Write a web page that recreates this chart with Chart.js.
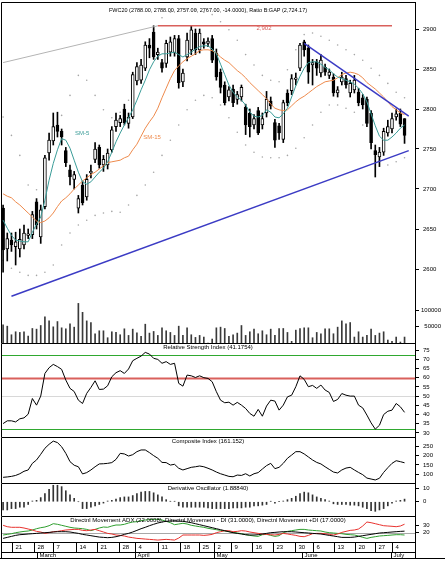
<!DOCTYPE html>
<html><head><meta charset="utf-8">
<script src="https://cdn.jsdelivr.net/npm/chart.js@4.4.0/dist/chart.umd.min.js"></script>
<style>
html,body{margin:0;padding:0;background:#fff;}
#wrap{position:relative;width:445px;height:563px;overflow:hidden;}
canvas{position:absolute;left:0;}
</style></head><body>
<div id="wrap">
<canvas id="cMain" style="top:0px" width="445" height="343"></canvas>
<canvas id="cRsi" style="top:343px" width="445" height="94"></canvas>
<canvas id="cComp" style="top:437px" width="445" height="46"></canvas>
<canvas id="cDer" style="top:483px" width="445" height="33"></canvas>
<canvas id="cDmi" style="top:516px" width="445" height="26"></canvas>
<canvas id="cAxis" style="top:542px" width="445" height="21"></canvas>
</div>
<script>
// ---------------- DATA ----------------
const open = [2676,2625,2636,2628,2625,2630,2642,2643,2684,2640,
2678,2745,2760,2780,2772,2748,2724,2712,2676,2705,
2690,2720,2737,2752,2730,2730,2749,2778,2783,2800,
2782,2790,2835,2836,2851,2880,2896,2868,2858,2857,
2871,2870,2888,2834,2865,2874,2895,2874,2884,2882,
2888,2870,2846,2830,2815,2825,2812,2815,2802,2795,
2780,2798,2780,2795,2810,2783,2779,2762,2820,2823,
2837,2851,2884,2876,2855,2859,2845,2852,2842,2840,
2820,2834,2838,2820,2824,2821,2814,2812,2795,2748,
2740,2746,2770,2775,2790,2795,2788];
const high = [2680,2645,2645,2646,2650,2655,2650,2672,2688,2680,
2742,2770,2795,2796,2775,2752,2730,2722,2692,2710,
2718,2730,2758,2755,2742,2750,2778,2795,2792,2806,
2795,2846,2858,2862,2884,2888,2904,2876,2862,2886,
2890,2892,2892,2850,2895,2904,2900,2900,2888,2889,
2892,2875,2850,2834,2828,2830,2822,2830,2806,2800,
2793,2802,2795,2822,2815,2787,2782,2811,2824,2843,
2845,2882,2886,2880,2862,2862,2868,2856,2850,2844,
2828,2846,2842,2836,2842,2826,2818,2815,2798,2755,
2752,2776,2786,2795,2800,2800,2788];
const low = [2596,2610,2622,2605,2615,2625,2638,2638,2650,2632,
2675,2736,2755,2765,2755,2728,2705,2700,2670,2680,
2686,2714,2733,2726,2722,2725,2746,2772,2778,2780,
2776,2788,2830,2832,2848,2864,2862,2862,2846,2852,
2866,2866,2826,2828,2860,2868,2868,2870,2876,2878,
2858,2836,2820,2805,2810,2803,2806,2810,2768,2765,
2775,2768,2775,2790,2800,2752,2762,2758,2804,2818,
2830,2848,2866,2832,2830,2842,2840,2842,2838,2816,
2815,2830,2826,2815,2820,2804,2800,2778,2750,2715,
2728,2742,2766,2770,2786,2778,2757];
const close = [2624,2638,2630,2634,2637,2645,2644,2668,2655,2674,
2739,2761,2778,2772,2765,2733,2715,2718,2688,2683,
2712,2722,2750,2730,2737,2745,2774,2786,2788,2783,
2790,2843,2853,2855,2880,2876,2865,2871,2851,2882,
2884,2888,2833,2845,2886,2899,2874,2895,2881,2885,
2861,2840,2827,2808,2824,2808,2818,2827,2780,2778,
2788,2770,2788,2812,2804,2761,2770,2808,2808,2838,
2839,2880,2874,2846,2858,2851,2861,2846,2846,2820,
2824,2840,2830,2832,2836,2808,2805,2782,2758,2743,
2746,2772,2778,2788,2794,2781,2767];
const volume = [55000,51000,25000,34000,32000,34000,21000,44000,42000,53000,
79000,67000,49000,65000,46000,43000,58000,48000,120000,93000,
67000,62000,28000,37000,37000,16000,34000,32000,25000,43000,
23000,42000,31000,20000,57000,30000,35000,23000,46000,37000,
32000,23000,51000,23000,46000,25000,17000,23000,18000,0,
12000,46000,48000,44000,20000,25000,30000,53000,23000,34000,
42000,28000,37000,25000,42000,23000,44000,44000,32000,5000,
39000,44000,46000,46000,16000,32000,28000,43000,43000,28000,
48000,67000,58000,62000,18000,34000,18000,23000,42000,23000,
30000,34000,9000,5000,18000,3000,18000];
const sm5 = [2661,2651,2642,2636,2635,2634,2634,2646,2656,2665,
2686,2711,2732,2749,2763,2761,2751,2736,2721,2709,
2706,2709,2715,2721,2726,2734,2746,2759,2770,2780,
2789,2799,2811,2824,2836,2849,2859,2866,2869,2869,
2870,2871,2868,2865,2868,2871,2875,2878,2879,2879,
2875,2869,2856,2843,2830,2821,2815,2811,2805,2796,
2791,2790,2792,2799,2796,2790,2789,2794,2801,2815,
2829,2841,2851,2858,2859,2859,2856,2852,2849,2844,
2840,2838,2836,2834,2831,2826,2819,2809,2794,2779,
2766,2761,2761,2765,2770,2776,2780];
const sm15 = [2694,2691,2689,2684,2680,2675,2670,2665,2660,2658,
2660,2664,2670,2678,2685,2689,2694,2700,2705,2710,
2714,2718,2721,2725,2729,2733,2734,2735,2736,2739,
2741,2749,2756,2766,2776,2784,2791,2801,2814,2826,
2838,2848,2854,2859,2863,2866,2869,2873,2874,2874,
2873,2870,2865,2861,2858,2853,2848,2844,2839,2833,
2828,2823,2818,2813,2806,2801,2799,2798,2799,2804,
2809,2813,2816,2820,2824,2828,2831,2834,2835,2836,
2839,2843,2845,2846,2845,2843,2839,2833,2829,2825,
2820,2815,2809,2803,2799,2795,2793];
// envelope bands, read at every second bar
const bandUpper = [2790,2767,2742,2705,2699,2724,2767,2792,2817,2842,
2836,2817,2799,2789,2796,2811,2842,2874,2899,2914,
2921,2924,2924,2924,2921,2918,2909,2899,2886,2868,
2855,2842,2836,2834,2849,2874,2893,2895,2891,2886,
2880,2874,2868,2861,2851,2842,2832,2821,2814];
const bandLower = [2611,2601,2596,2592,2592,2596,2605,2630,2645,2655,
2661,2667,2670,2672,2671,2680,2692,2705,2721,2742,
2761,2780,2799,2811,2817,2814,2805,2789,2771,2755,
2746,2740,2739,2739,2742,2751,2764,2780,2796,2805,
2805,2801,2796,2780,2755,2736,2730,2734,2739];
const rsi = [35.1,36.6,36.6,36.0,37.7,38.2,40.2,48.7,45.1,50.0,
62.3,65.4,67.2,66.0,64.5,58.7,54.2,52.5,47.8,46.0,
51.5,54.7,58.3,53.6,53.8,55.6,60.5,62.7,63.8,62.3,
64.7,69.2,70.5,71.7,73.7,72.8,70.5,69.9,67.8,68.7,
67.2,67.8,56.9,55.4,61.4,61.0,60.1,61.0,60.0,59.6,
57.8,52.4,47.8,46.4,46.7,45.1,46.6,45.1,43.3,40.6,
39.1,42.8,39.1,44.6,47.8,47.3,42.4,45.1,49.6,50.5,
55.1,61.0,59.1,55.1,55.8,54.2,56.0,53.3,52.0,47.1,
48.2,51.4,50.5,50.0,50.0,45.1,43.6,39.7,35.5,32.1,
34.2,40.0,41.8,42.4,46.0,44.2,41.2];
const composite = [84,86,89,94,103,116,123,158,176,206,
238,259,276,268,246,211,167,148,140,102,
109,123,140,155,156,158,162,179,211,208,
197,204,220,229,229,215,199,185,163,162,
149,153,132,123,130,137,140,144,140,132,
123,112,103,96,89,87,96,94,103,91,
103,109,128,146,158,130,137,158,185,202,
220,220,208,192,176,163,155,140,126,112,
107,123,133,137,123,110,98,80,75,70,
79,110,135,158,172,167,161];
const derivOsc = [-6,-6,-5,-5,-4,-4,-2,0.5,1,3,
6,9,12,12,11,8,5,2.5,0,-5,
-5,-4,-3,-2,-1,0.5,1,2,3,3.5,
3.5,4.5,6,7,7.5,7.5,6.5,5,3.5,1.5,
0.3,0.3,-3,-4,-4,-4,-4,-4,-4,-4.5,
-5,-5,-5,-5,-5,-4.5,-4.5,-4.5,-4,-4,
-3,-3,-2.5,-2,0.3,-1,0.3,0.5,1.5,2.5,
4,6,7,6.5,5,3.5,2.5,1.5,0.5,-1.5,
-2,-2,-2,-2.5,-2.5,-3,-4,-5,-6.5,-7,
-6,-5,-3,-1,0.5,1,1.9];
const adx = [12.6,13.9,15.2,16.5,17.4,17.8,18.3,18.7,19.1,19.6,
20,20.4,20.9,21.3,21.3,21.3,20.9,20,19.1,17.8,
17,16.1,15.2,14.3,13.9,13.5,13.9,14.8,16.1,17.8,
19.1,20.9,23,25.2,27,29.1,30.9,32.6,33.9,34.8,
35.2,35.2,35.2,34.8,33.9,33,31.7,30.4,29.1,27.8,
26.5,25.2,23.9,22.6,21.3,20,19.1,18.3,17.4,17,
17,17.4,18.3,19.1,20,20.4,20.9,21.3,21.3,21.3,
20.9,20.4,20,19.6,19.1,18.7,18.3,17.4,16.5,15.7,
14.8,13.9,13.9,13.9,14.3,15.2,16.1,17,17.8,18.7,
19.6,20,20.4,20.9,21.3,21.7,22];
const minusDI = [29.6,27.8,27,27,27,26.1,24.8,23.5,21.7,20.9,
19.1,20,21.3,21.7,22.6,23.5,23.9,24.3,24.3,23,
22.6,23.5,24.3,22.6,20.9,19.1,18.3,17,16.5,15.7,
14.3,13.5,12.6,12.2,11.7,11.3,10.9,10.4,10.9,11.3,
10.9,10.4,13,17,17,17,17,17,16.5,17,
17.8,20,21.3,22.6,22.6,21.3,21.7,22.6,22.2,20.9,
20,19.1,18.3,17.8,17.4,17,17.8,19.1,18.3,17.4,
16.5,15.2,14.8,16.5,18.7,19.1,19.1,18.7,17.8,17,
18.3,20.4,21.7,23,23.5,24.8,28.7,33.9,33,31.7,
30.4,29.1,28.7,28.3,27.8,28.7,31];
const plusDI = [17,17.8,18.7,20,20.9,21.7,22.2,23.5,25.2,26.5,
27.4,29.1,31.7,30.9,29.6,28.3,27,26.1,25.7,25.2,
24.3,22.6,24.3,26.1,27.4,27,28.7,30,30,30.9,
32.6,33.9,34.3,35.7,36.5,37,37.4,37.4,36.5,34.8,
33,30.4,31.3,32.2,31.3,29.6,28.7,27.8,27,25.7,
24.8,23.9,23,22.2,21.3,20.4,19.6,18.7,17.4,16.5,
15.7,15.2,17.4,17.8,16.5,15.2,16.1,20,21.7,22.6,
23.5,24.3,24.3,23.5,23,22.6,22.2,20.9,20,19.6,
19.1,18.7,17.8,17.4,17,15.7,13.9,12.6,13.9,14.8,
15.7,16.1,16.5,17,17.4,17.4,17];

// trend lines (bar index, price)
const fanIdx = [0, 37],  fanVal = [2858, 2904];
const resIdx = [37, 93], resVal = [2904, 2904];
const upTrendIdx = [2, 97], upTrendVal = [2566, 2748];
const downTrendIdx = [72, 97], downTrendVal = [2882, 2791];

// axis tick labels
const priceTicks = [2600, 2650, 2700, 2750, 2800, 2850, 2900];
const volTicks = [50000, 100000];
const rsiTicks = [30, 35, 40, 45, 50, 55, 60, 65, 70, 75];
const compTicks = [100, 150, 200, 250];
const derTicks = [0, 10];
const dmiTicks = [20, 30];
const dayLabels = ['21','28','7','14','21','28','4','11','18','25','2','9','16','23','30','6','13','20','27','4'];
const dayAt = [2.1,7.5,12,17.4,22.4,27.6,31.6,37,42.3,46.9,50.5,54.5,59.6,64.6,69.8,74.2,79.2,84.2,89,93];
const monthLabels = ['March','April','May','June','July'];
const monthAt = [8.0,31.6,50.5,71.4,92.7];

// ---------------- SETUP ----------------
const FONT = '"Liberation Sans", Arial, sans-serif';
Chart.defaults.font.family = FONT;
Chart.defaults.font.size = 6;
Chart.defaults.color = '#000';
const SLOTS = 99;
const labels = Array.from({length: SLOTS}, (_, i) => String(i));

function seg(idx, vals) {
  const a = new Array(SLOTS).fill(null);
  idx.forEach((k, j) => { a[k] = vals[j]; });
  return a;
}
const bandIdx = bandUpper.map((_, j) => j * 2);

function yAxis(min, max, ticks, show) {
  return {
    position: 'right', min: min, max: max,
    display: true,
    afterBuildTicks: s => { s.ticks = ticks.map(v => ({value: v})); },
    afterFit: s => { s.width = 30; s.paddingTop = 0; s.paddingBottom = 0; },
    border: {display: true, color: '#000', width: 1},
    grid: {drawOnChartArea: false, drawTicks: show !== false, tickLength: 4, color: '#000'},
    ticks: {display: show !== false, padding: 4, autoSkip: false, font: {size: 6, family: FONT}, color: '#000',
            callback: v => String(v)}
  };
}

function frame(cfg) {
  return {
    id: 'frame_' + Math.random().toString(36).slice(2),
    beforeDatasetsDraw(chart) {
      const {ctx, chartArea: a} = chart;
      const y = chart.scales.y;
      (cfg.hlines || []).forEach(h => {
        const py = Math.round(y.getPixelForValue(h.v)) + 0.5;
        ctx.save(); ctx.strokeStyle = h.color; ctx.lineWidth = h.w || 1;
        ctx.beginPath(); ctx.moveTo(a.left, py); ctx.lineTo(a.right, py); ctx.stroke(); ctx.restore();
      });
    },
    afterDraw(chart) {
      const {ctx, chartArea: a} = chart;
      ctx.save();
      ctx.strokeStyle = '#000'; ctx.lineWidth = 1;
      ctx.beginPath();
      ctx.moveTo(a.left + 0.5, a.bottom); ctx.lineTo(a.left + 0.5, a.top + 0.5); ctx.lineTo(a.right + 1, a.top + 0.5);
      ctx.stroke();
      if (cfg.title) {
        ctx.fillStyle = '#000'; ctx.font = (cfg.titleSize || 6) + 'px ' + FONT;
        ctx.textAlign = 'center'; ctx.textBaseline = 'middle';
        ctx.fillText(cfg.title, (a.left + a.right) / 2, cfg.titleY);
      }
      if (cfg.extra) cfg.extra(chart, ctx);
      ctx.restore();
    }
  };
}

function baseOptions(yOpts, extraScales) {
  const scales = {
    x: {type: 'category', display: false, offset: true, grid: {display: false}},
    y: yOpts
  };
  Object.assign(scales, extraScales || {});
  return {
    responsive: false, animation: false, devicePixelRatio: 1,
    layout: {autoPadding: false, padding: {left: 1, right: 0, top: 0, bottom: 0}},
    elements: {point: {hoverRadius: 0, hitRadius: 0}},
    plugins: {legend: {display: false}, tooltip: {enabled: false}},
    events: [],
    scales: scales
  };
}

// ---------------- MAIN PRICE ----------------
const wick = low.map((l, i) => [l, high[i]]);
const body = open.map((o, i) => [o, close[i]]);
const bodyColor = open.map((o, i) => close[i] >= o ? '#ffffff' : '#000000');

const mainOpts = baseOptions(yAxis(2507.5, 2933.75, priceTicks), {
  yv: {type: 'linear', display: false, min: 0, max: 1033333}
});
mainOpts.layout.padding.top = 2;

new Chart(document.getElementById('cMain'), {
  type: 'bar',
  data: {
    labels: labels,
    datasets: [
      {type: 'line', data: seg(bandIdx, bandUpper), showLine: false, pointRadius: 0.8, pointBorderWidth: 0,
       pointHoverRadius: 0, pointBackgroundColor: '#a6a6a6', order: 4},
      {type: 'line', data: seg(bandIdx, bandLower), showLine: false, pointRadius: 0.8, pointBorderWidth: 0,
       pointHoverRadius: 0, pointBackgroundColor: '#a6a6a6', order: 4},
      {type: 'line', data: seg(fanIdx, fanVal), borderColor: '#b4b4b4', borderWidth: 1, pointRadius: 0, spanGaps: true, order: 0},
      {type: 'line', data: seg(resIdx, resVal), borderColor: '#d9605c', borderWidth: 1.6, pointRadius: 0, spanGaps: true, order: 0},
      {type: 'line', data: seg(upTrendIdx, upTrendVal), borderColor: '#3b3bc4', borderWidth: 1.5, pointRadius: 0, spanGaps: true, order: 0},
      {type: 'line', data: seg(downTrendIdx, downTrendVal), borderColor: '#3b3bc4', borderWidth: 1.5, pointRadius: 0, spanGaps: true, order: 0},
      {type: 'line', data: sm5, borderColor: '#3a9c98', borderWidth: 1, pointRadius: 0, tension: 0, order: 0},
      {type: 'line', data: sm15, borderColor: '#ee8a4c', borderWidth: 1, pointRadius: 0, tension: 0, order: 0},
      {type: 'bar', data: body, backgroundColor: bodyColor, borderColor: '#000', borderWidth: 1, borderSkipped: false,
       barThickness: 3, grouped: false, order: 1},
      {type: 'bar', data: wick, backgroundColor: '#000', barThickness: 1, grouped: false, order: 2},
      {type: 'bar', data: volume, backgroundColor: '#3a3a3a', barThickness: 1, grouped: false, yAxisID: 'yv', order: 3}
    ]
  },
  options: mainOpts,
  plugins: [frame({
    title: 'FWC20 (2788.00, 2788.00, 2757.00, 2767.00, -14.0000), Ratio B:GAP (2,724.17)',
    titleY: 10, titleSize: 5.5,
    extra: (chart, ctx) => {
      const x = chart.scales.x, y = chart.scales.y, yv = chart.scales.yv;
      ctx.font = '6px ' + FONT; ctx.textBaseline = 'middle';
      ctx.textAlign = 'right'; ctx.fillStyle = '#000';
      volTicks.forEach(v => {
        const py = Math.round(yv.getPixelForValue(v)) + 0.5;
        ctx.beginPath(); ctx.moveTo(415, py); ctx.lineTo(419, py); ctx.stroke();
        ctx.fillText(String(v), 441, py);
      });
      ctx.textAlign = 'center'; ctx.fillStyle = '#d9605c';
      ctx.fillText('2,902', x.getPixelForValue(62.4), y.getPixelForValue(2900.5));
      ctx.textAlign = 'left'; ctx.fillStyle = '#3a9c98';
      ctx.fillText('SM-5', x.getPixelForValue(17.2), y.getPixelForValue(2770));
      ctx.fillStyle = '#ee8a4c';
      ctx.fillText('SM-15', x.getPixelForValue(33.5), y.getPixelForValue(2764));
    }
  })]
});

// ---------------- RSI ----------------
new Chart(document.getElementById('cRsi'), {
  type: 'line',
  data: {labels: labels, datasets: [
    {data: rsi, borderColor: '#000', borderWidth: 1, pointRadius: 0, tension: 0}
  ]},
  options: baseOptions(yAxis(27.83, 78.8, rsiTicks)),
  plugins: [frame({
    title: 'Relative Strength Index (41.1754)', titleY: 4.5,
    hlines: [{v: 72.3, color: '#2fa82f', w: 1}, {v: 60, color: '#d9605c', w: 2}, {v: 49.8, color: '#d8d8d8', w: 1}, {v: 32.4, color: '#2fa82f', w: 1}]
  })]
});

// ---------------- COMPOSITE ----------------
new Chart(document.getElementById('cComp'), {
  type: 'line',
  data: {labels: labels, datasets: [
    {data: composite, borderColor: '#000', borderWidth: 1, pointRadius: 0, tension: 0}
  ]},
  options: baseOptions(yAxis(53.9, 297.7, compTicks)),
  plugins: [frame({title: 'Composite Index (161.152)', titleY: 4.7})]
});

// ---------------- DERIVATIVE OSCILLATOR ----------------
new Chart(document.getElementById('cDer'), {
  type: 'bar',
  data: {labels: labels, datasets: [
    {data: derivOsc, backgroundColor: '#333', barThickness: 1}
  ]},
  options: baseOptions(yAxis(-10.4, 13.65, derTicks)),
  plugins: [frame({title: 'Derivative Oscillator (1.88840)', titleY: 5.7})]
});

// ---------------- DMI ----------------
new Chart(document.getElementById('cDmi'), {
  type: 'line',
  data: {labels: labels, datasets: [
    {data: adx, borderColor: '#000', borderWidth: 1, pointRadius: 0, tension: 0},
    {data: minusDI, borderColor: '#e8332f', borderWidth: 1, pointRadius: 0, tension: 0},
    {data: plusDI, borderColor: '#2e9e2e', borderWidth: 1, pointRadius: 0, tension: 0}
  ]},
  options: baseOptions(yAxis(7.9, 41.7, dmiTicks)),
  plugins: [frame({
    title: 'Directnl Movement ADX (22.0008), Directnl Movement - DI (31.0000), Directnl Movement +DI (17.0000)',
    titleY: 4.7,
    hlines: [{v: 20, color: '#a8a8a8', w: 1}]
  })]
});

// ---------------- DATE AXIS ----------------
const axOpts = baseOptions(yAxis(0, 1, [], false));
axOpts.scales.y.border = {display: false};
new Chart(document.getElementById('cAxis'), {
  type: 'bar',
  data: {labels: labels, datasets: [{data: []}]},
  options: axOpts,
  plugins: [{
    id: 'dateAxis',
    afterDraw(chart) {
      const {ctx, chartArea: a} = chart;
      const x = chart.scales.x;
      ctx.save();
      ctx.strokeStyle = '#000'; ctx.lineWidth = 1; ctx.fillStyle = '#000';
      ctx.beginPath();
      ctx.moveTo(a.left, 0.5); ctx.lineTo(416, 0.5);
      ctx.moveTo(a.left, 10.5); ctx.lineTo(416, 10.5);
      ctx.moveTo(0, 16.5); ctx.lineTo(445, 16.5);
      ctx.moveTo(a.left + 0.5, 0); ctx.lineTo(a.left + 0.5, 17);
      ctx.moveTo(415.5, 0); ctx.lineTo(415.5, 17);
      ctx.stroke();
      ctx.font = '6px ' + FONT; ctx.textAlign = 'left'; ctx.textBaseline = 'middle';
      dayAt.forEach((d, i) => {
        const px = Math.round(x.getPixelForValue(d)) + 0.5;
        ctx.beginPath(); ctx.moveTo(px, 0); ctx.lineTo(px, 10.5); ctx.stroke();
        ctx.fillText(dayLabels[i], px + 3, 5);
      });
      monthAt.forEach((d, i) => {
        const px = Math.round(x.getPixelForValue(d)) + 0.5;
        ctx.beginPath(); ctx.moveTo(px, 10); ctx.lineTo(px, 16.5); ctx.stroke();
        ctx.fillText(monthLabels[i], px + 2, 13.5);
      });
      ctx.restore();
    }
  }]
});
</script>
</body></html>
